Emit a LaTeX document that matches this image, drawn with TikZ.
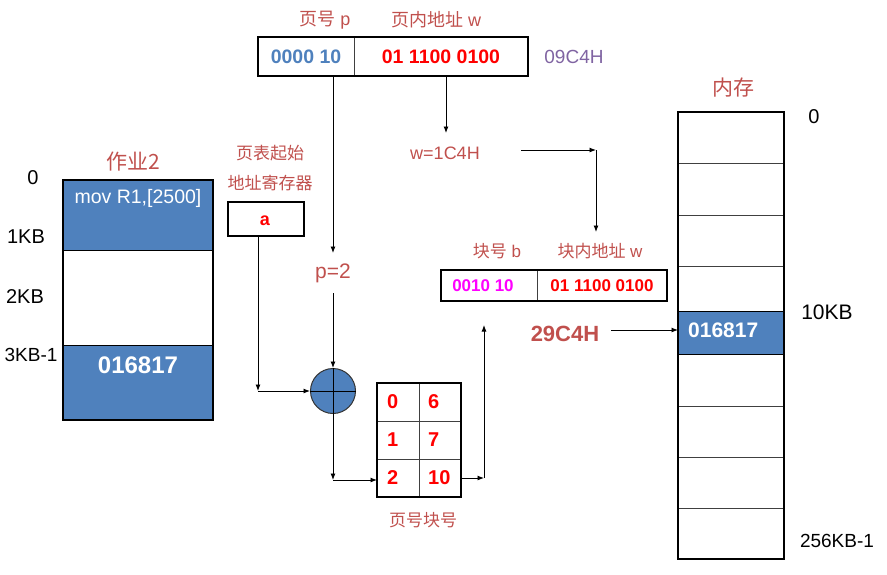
\documentclass[tikz,border=0pt]{standalone}
\usepackage{fontspec}
\setmainfont{Liberation Sans}
\newfontfamily\cjk{Noto Sans CJK SC}
\usetikzlibrary{arrows.meta,calc}
\definecolor{labred}{HTML}{C0504D}
\definecolor{ofblue}{HTML}{4F81BD}
\definecolor{ofpurple}{HTML}{8064A2}
\definecolor{brmag}{HTML}{FF00FF}
\newcommand{\myfs}[1]{\fontsize{#1}{#1}\selectfont}
\begin{document}
\begin{tikzpicture}[x=1pt,y=-1pt,
  arr/.style={-{Latex[length=6.5pt,width=5pt]},line width=0.9pt},
  thickbox/.style={line width=2.5pt,line join=miter},
  cell/.style={draw=black!75,line width=1pt,inner sep=0pt,outer sep=0pt},
  lab/.style={inner sep=0pt,text=labred},
  plain/.style={inner sep=0pt},
  tabnum/.style={inner sep=0pt,text=red,font=\myfs{20}\bfseries,anchor=west}
]
\useasboundingbox (0,0) rectangle (887,574);

% ---------- top logical address ----------
\node[cell,minimum width=96pt,minimum height=39pt,text=ofblue,font=\myfs{19.5}\bfseries] (pbox) at (306,56.5) {0000 10};
\node[cell,minimum width=174pt,minimum height=39pt,text=red,font=\myfs{19.5}\bfseries] (wbox) at (441,56.5) {01 1100 0100};
\draw[thickbox] (pbox.north west) rectangle (wbox.south east);
\node[lab,font=\myfs{18}] (lp) at (325,20) {{\cjk 页号} p};
\node[lab,font=\myfs{18}] (lw) at (436,20) {{\cjk 页内地址} w};
\node[plain,text=ofpurple,font=\myfs{19}] (hex1) at (574,57) {09C4H};

% ---------- job 2 ----------
\node[cell,draw=black,fill=ofblue,minimum width=150pt,minimum height=70pt] (j1) at (138,215) {};
\node[cell,draw=black,fill=white,minimum width=150pt,minimum height=95pt] (j2) at (138,297.5) {};
\node[cell,draw=black,fill=ofblue,minimum width=150pt,minimum height=75pt] (j3) at (138,382.5) {};
\draw[thickbox] (j1.north west) rectangle (j3.south east);
\node[plain,text=white,font=\myfs{19.5}] (mov) at (138,198) {mov R1,[2500]};
\node[plain,text=white,font=\myfs{24}\bfseries] (jval) at (138,365) {016817};
\node[lab,font=\cjk\myfs{21}] (job) at (133,162) {作业2};
\node[plain,font=\myfs{20}] (l0) at (33,178) {0};
\node[plain,font=\myfs{20}] (l1) at (26,237) {1KB};
\node[plain,font=\myfs{20}] (l2) at (25,297) {2KB};
\node[plain,font=\myfs{19}] (l3) at (31,355) {3KB-1};

% ---------- page table register ----------
\node[lab,font=\cjk\myfs{17}] (reg1) at (270,153) {页表起始};
\node[lab,font=\cjk\myfs{17}] (reg2) at (270,183) {地址寄存器};
\node[draw,thickbox,inner sep=0pt,minimum width=76pt,minimum height=34pt] (abox) at (266,219) {};
\node[plain,text=red,font=\myfs{18}\bfseries] (aval) at (265,221) {a};

% ---------- adder ----------
\node[lab,font=\myfs{21}] (ptwo) at (333,273) {p=2};
\node[circle,draw=black!80,line width=1pt,fill=ofblue,minimum size=45pt,inner sep=0pt] (circ) at (333,391) {};
\draw[line width=0.9pt] (circ.north) -- (circ.south) (circ.west) -- (circ.east);

% ---------- page table ----------
\node[cell,minimum width=42pt,minimum height=38pt] (t00) at (398,402) {};
\node[cell,minimum width=42pt,minimum height=38pt] (t01) at (440,402) {};
\node[cell,minimum width=42pt,minimum height=38pt] (t10) at (398,440) {};
\node[cell,minimum width=42pt,minimum height=38pt] (t11) at (440,440) {};
\node[cell,minimum width=42pt,minimum height=38pt] (t20) at (398,478) {};
\node[cell,minimum width=42pt,minimum height=38pt] (t21) at (440,478) {};
\draw[thickbox] (t00.north west) rectangle (t21.south east);
\node[tabnum] (n00) at (387,402) {0};
\node[tabnum] (n01) at (428,402) {6};
\node[tabnum] (n10) at (387,440) {1};
\node[tabnum] (n11) at (428,440) {7};
\node[tabnum] (n20) at (387,478) {2};
\node[tabnum] (n21) at (428,478) {10};
\node[lab,font=\cjk\myfs{17}] (ptlab) at (423,520) {页号块号};

% ---------- physical address ----------
\node[lab,font=\myfs{17}] (lb) at (497,251) {{\cjk 块号} b};
\node[lab,font=\myfs{17}] (lbw) at (600,251) {{\cjk 块内地址} w};
\node[cell,minimum width=96pt,minimum height=31pt] (bb1) at (489,285.5) {};
\node[cell,minimum width=130pt,minimum height=31pt,text=red,font=\myfs{17}\bfseries] (bb2) at (602,285.5) {01 1100 0100};
\node[plain,text=brmag,font=\myfs{17}\bfseries] (bbt) at (483,286) {0010 10};
\draw[thickbox] (bb1.north west) rectangle (bb2.south east);
\node[lab,font=\myfs{18}] (w1c) at (445,153) {w=1C4H};
\node[lab,font=\myfs{22}\bfseries] (r29) at (565,334) {29C4H};

% ---------- memory ----------
\node[lab,font=\cjk\myfs{21}] (memlab) at (733,88) {内存};
\foreach \i/\c/\h in {1/137.5/51,2/189/52,3/240.5/51,4/288.5/45,6/380/52,7/431.5/51,8/482.5/51,9/533.5/51}
  \node[cell,minimum width=106pt,minimum height=\h pt] (m\i) at (731,\c) {};
\node[cell,draw=black,fill=ofblue,minimum width=106pt,minimum height=43pt] (m5) at (731,332.5) {};
\draw[line width=2pt] (m1.north west) rectangle (m9.south east);
\node[plain,text=white,font=\myfs{21}\bfseries,anchor=west] (mval) at (688,330) {016817};
\node[plain,font=\myfs{20}] (r0) at (814,117) {0};
\node[plain,font=\myfs{21}] (r10) at (827,312) {10KB};
\node[plain,font=\myfs{19}] (r256) at (837,541) {256KB-1};

% ---------- connectors ----------
\coordinate (pout) at (333,76);
\coordinate (pin) at (333,253);
\coordinate (pout2) at (333,293);
\coordinate (c1) at (333,480);
\coordinate (atop) at (258,236);
\coordinate (c2) at (258,391);
\coordinate (c3) at (484,478);
\coordinate (c4) at (484,325);
\coordinate (wout) at (446,76);
\coordinate (win) at (446,133);
\coordinate (w2) at (521,150);
\coordinate (w3) at (596,150);
\coordinate (w4) at (596,232);
\coordinate (a29) at (611,330);

\draw[arr] (pout) -- (pin);
\draw[arr] (pout2) -- (circ.north);
\draw[arr] (circ.south) -- (c1);
\draw[arr] (c1) -- (c1 -| t20.west);
\draw[arr] (atop) -- (c2);
\draw[arr] (c2) -- (circ.west);
\draw[arr] (t21.east) -- (c3);
\draw[arr] (c3) -- (c4);
\draw[arr] (wout) -- (win);
\draw[arr] (w2) -- (w3);
\draw[arr] (w3) -- (w4);
\draw[arr] (a29) -- (a29 -| m5.west);
\end{tikzpicture}
\end{document}
